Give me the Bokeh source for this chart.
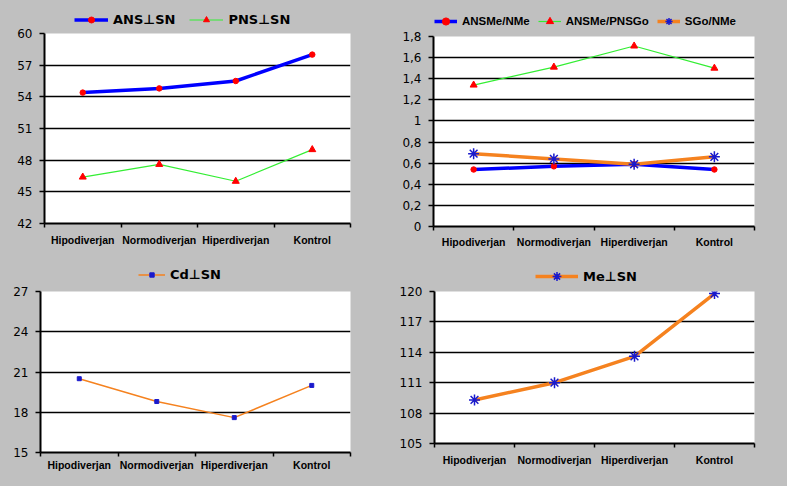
from bokeh.plotting import figure
from bokeh.layouts import column, row
from bokeh.models import Range1d, FixedTicker, Legend, LegendItem
from bokeh.embed import file_html
from bokeh.resources import INLINE

# ---------------- data ----------------
categories = ["Hipodiverjan", "Normodiverjan", "Hiperdiverjan", "Kontrol"]

ans_sn = [54.4, 54.8, 55.5, 58.0]
pns_sn = [46.4, 47.6, 46.0, 49.0]

ansme_nme = [0.54, 0.57, 0.59, 0.54]
ansme_pnsgo = [1.34, 1.51, 1.71, 1.50]
sgo_nme = [0.69, 0.64, 0.59, 0.66]

cd_sn = [20.5, 18.8, 17.6, 20.0]
me_sn = [109.3, 111.0, 113.6, 119.8]

y1_ticks = [42, 45, 48, 51, 54, 57, 60]
y1_labels = ["42", "45", "48", "51", "54", "57", "60"]
y2_ticks = [0, 0.2, 0.4, 0.6, 0.8, 1.0, 1.2, 1.4, 1.6, 1.8]
y2_labels = ["0", "0,2", "0,4", "0,6", "0,8", "1", "1,2", "1,4", "1,6", "1,8"]
y3_ticks = [15, 18, 21, 24, 27]
y3_labels = ["15", "18", "21", "24", "27"]
y4_ticks = [105, 108, 111, 114, 117, 120]
y4_labels = ["105", "108", "111", "114", "117", "120"]

# ---------------- styling ----------------
BG = "#c0c0c0"
BLUE = "#0000ff"
GREEN = "#33ee33"
ORANGE = "#f5821f"
RED = "#ff0000"
MARK_BLUE = "#1a1acc"

n = len(categories)
xc = [i + 0.5 for i in range(n)]          # category centres
xb = [float(i) for i in range(n + 1)]     # category boundaries

STYLES = {
    "blue_red": dict(line=dict(line_color=BLUE, line_width=3.5),
                     mark=dict(marker="circle", size=5.5, fill_color=RED, line_color=RED)),
    "green_tri": dict(line=dict(line_color=GREEN, line_width=1.2),
                      mark=dict(marker="triangle", size=7, fill_color=RED, line_color=RED)),
    "orange_ast": dict(line=dict(line_color=ORANGE, line_width=3.5),
                       mark=dict(marker="asterisk", size=11, line_color=MARK_BLUE, line_width=1.5)),
    "orange_sq": dict(line=dict(line_color=ORANGE, line_width=1.5),
                      mark=dict(marker="square", size=4, fill_color=MARK_BLUE, line_color=MARK_BLUE)),
}


def make_fig(width, height, left, right, top, bottom, y_ticks, y_labels, standoff):
    p = figure(width=width, height=height,
               x_range=Range1d(0, n), y_range=Range1d(y_ticks[0], y_ticks[-1]),
               output_backend="svg", toolbar_location=None,
               min_border_left=left, min_border_right=right,
               min_border_top=top, min_border_bottom=bottom,
               background_fill_color="white", border_fill_color=BG,
               outline_line_color=None)
    p.xgrid.grid_line_color = None
    p.ygrid.grid_line_color = "black"
    p.ygrid.grid_line_width = 1.5
    p.ygrid.ticker = FixedTicker(ticks=y_ticks)

    xa = p.xaxis[0]
    xa.ticker = FixedTicker(ticks=xc, minor_ticks=xb)
    xa.major_label_overrides = {x: c for x, c in zip(xc, categories)}
    xa.major_tick_line_color = None
    xa.major_tick_out = 0
    xa.major_tick_in = 0
    xa.minor_tick_line_color = "black"
    xa.minor_tick_out = 4
    xa.minor_tick_in = 0
    xa.minor_tick_line_width = 1.5
    xa.axis_line_width = 2
    xa.axis_line_color = "black"
    xa.major_label_text_font = "Liberation Sans"
    xa.major_label_text_font_style = "bold"
    xa.major_label_text_font_size = "10.5px"
    xa.major_label_text_color = "black"
    xa.major_label_standoff = standoff

    ya = p.yaxis[0]
    ya.ticker = FixedTicker(ticks=y_ticks)
    ya.major_label_overrides = {t: l for t, l in zip(y_ticks, y_labels)}
    ya.major_tick_out = 5
    ya.major_tick_in = 0
    ya.major_tick_line_width = 1.5
    ya.major_tick_line_color = "black"
    ya.minor_tick_line_color = None
    ya.axis_line_width = 2
    ya.axis_line_color = "black"
    ya.major_label_text_font = "DejaVu Sans"
    ya.major_label_text_font_size = "12px"
    ya.major_label_text_color = "black"
    ya.major_label_standoff = 7
    return p


def plot_series(p, values, style):
    st = STYLES[style]
    r1 = p.line(xc, values, **st["line"])
    r2 = p.scatter(xc, values, **st["mark"])
    return [r1, r2]


def legend_fig(width, height, entries, loc, glyph_w, glyph_h, spacing, font, size):
    # a strip above the chart that only carries the legend; the series are
    # re-plotted here outside its (empty) visible range so the legend keys
    # get the exact same styles
    lf = figure(width=width, height=height, x_range=Range1d(100, 101), y_range=Range1d(100, 101),
                output_backend="svg", toolbar_location=None,
                x_axis_location=None, y_axis_location=None,
                min_border=0, background_fill_color=BG, border_fill_color=BG,
                outline_line_color=None)
    lf.xgrid.grid_line_color = None
    lf.ygrid.grid_line_color = None
    items = []
    for label, values, style in entries:
        items.append(LegendItem(label=label, renderers=plot_series(lf, values, style)))
    lg = Legend(items=items, location=loc, orientation="horizontal",
                border_line_color=None, background_fill_alpha=0,
                padding=0, margin=0, spacing=spacing, label_standoff=5,
                glyph_width=glyph_w, glyph_height=glyph_h, label_height=14,
                label_text_font=font, label_text_font_size=size,
                label_text_font_style="bold", label_text_color="black")
    lf.add_layout(lg)
    return lf


# ---------------- panel 1 ----------------
p1 = make_fig(390, 224, 44, 40, 7, 27, y1_ticks, y1_labels, 6)
plot_series(p1, ans_sn, "blue_red")
plot_series(p1, pns_sn, "green_tri")
lg1 = legend_fig(390, 26, [("ANS\u22a5SN", ans_sn, "blue_red"),
                           ("PNS\u22a5SN", pns_sn, "green_tri")],
                 (30, -1), 34, 15, 14, "DejaVu Sans", "13px")

# ---------------- panel 2 ----------------
p2 = make_fig(397, 222, 43, 33, 8, 22, y2_ticks, y2_labels, 5)
plot_series(p2, ansme_nme, "blue_red")
plot_series(p2, ansme_pnsgo, "green_tri")
plot_series(p2, sgo_nme, "orange_ast")
lg2 = legend_fig(397, 28, [("ANSMe/NMe", ansme_nme, "blue_red"),
                           ("ANSMe/PNSGo", ansme_pnsgo, "green_tri"),
                           ("SGo/NMe", sgo_nme, "orange_ast")],
                 (1, -2), 23, 18, 8, "Liberation Sans", "11.5px")

# ---------------- panel 3 ----------------
p3 = make_fig(390, 203, 40, 40, 8, 34, y3_ticks, y3_labels, 2)
plot_series(p3, cd_sn, "orange_sq")
lg3 = legend_fig(390, 33, [("Cd\u22a5SN", cd_sn, "orange_sq")],
                 (98, 1), 27, 11, 8, "DejaVu Sans", "13px")

# ---------------- panel 4 ----------------
p4 = make_fig(397, 203, 44, 33, 8, 43, y4_ticks, y4_labels, 6)
plot_series(p4, me_sn, "orange_ast")
lg4 = legend_fig(397, 33, [("Me\u22a5SN", me_sn, "orange_ast")],
                 (101, -4), 43, 22, 8, "DejaVu Sans", "13px")

layout = column(
    row(column(lg1, p1, spacing=0), column(lg2, p2, spacing=0), spacing=0),
    row(column(lg3, p3, spacing=0), column(lg4, p4, spacing=0), spacing=0),
    spacing=0, background=BG)

open("out.html", "w").write(file_html(layout, INLINE))
